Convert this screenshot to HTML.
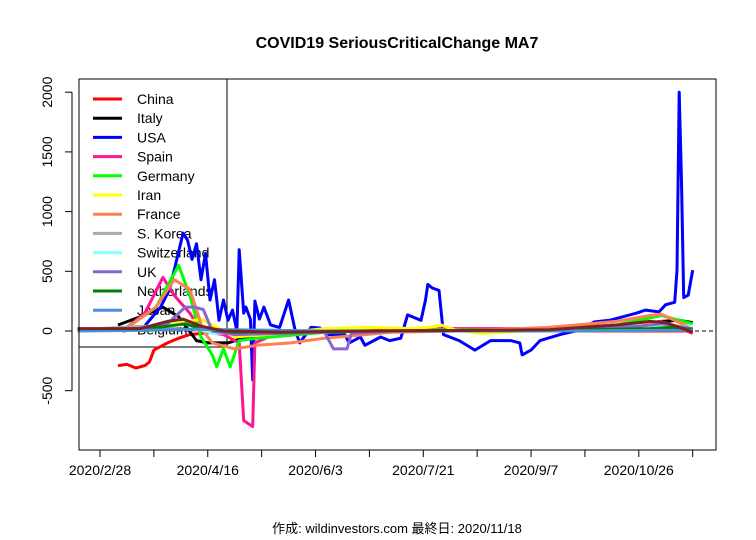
<!DOCTYPE html>
<html><head><meta charset="utf-8">
<style>
body{margin:0;background:#fff;}
svg{display:block;font-family:"Liberation Sans","Noto Sans CJK JP",sans-serif;}
</style></head>
<body>
<svg id="chart" width="756" height="540" viewBox="0 0 756 540" xmlns="http://www.w3.org/2000/svg">
<rect width="756" height="540" fill="#fff"/>
<text x="397" y="48" text-anchor="middle" font-size="16" font-weight="bold">COVID19 SeriousCriticalChange MA7</text>
<text x="397" y="533" text-anchor="middle" font-size="13">作成: wildinvestors.com 最終日: 2020/11/18</text>
<g id="axes"></g>
<g id="legend"></g>
<g id="series"></g>
<rect x="79" y="79" width="637" height="371" fill="none" stroke="#000" stroke-width="1"/>
</svg>
<script>
const xTickLabels=["2020/2/28","2020/4/16","2020/6/3","2020/7/21","2020/9/7","2020/10/26"];
const xTickDays=[0,48,96,144,192,240];
const xMinorDays=[24,72,120,168,216,264];
const yTicks=[-500,0,500,1000,1500,2000];
const seriesNames=["China","Italy","USA","Spain","Germany","Iran","France","S. Korea","Switzerland","UK","Netherlands","Japan","Belgium"];
const seriesColors=["#ff0000","#000000","#0000ff","#ff1493","#00ff00","#ffff00","#ff7f50","#a9a9a9","#87ffff","#8a64d2","#008000","#4a90d9","#7b2222"];

const chinaDays=[8,12,16,20,22,24,30,35,40,50,70,100,150,200,250,264];
const chinaVals=[-290,-280,-310,-290,-260,-160,-100,-60,-30,-10,-5,0,0,0,0,0];
const italyDays=[8,18,28,35,43,48,57,65,75,100,150,200,230,250,258,264];
const italyVals=[50,120,200,120,-80,-100,-100,-50,-10,0,0,5,20,80,90,70];
const usaDays=[18,27,31,37,39,41,43,45,47,49,51,53,55,57,59,61,62,64,65,67,68,69,71,73,76,80,84,87,89,94,98,102,109,111,116,118,125,129,134,137,143,145,146,148,151,153,160,167,174,183,187,188,192,196,205,214,220,227,239,243,249,252,256,257,258,259,260,262,264];
const usaVals=[0,200,350,820,760,600,730,430,650,260,430,90,260,90,175,0,680,150,200,100,-410,250,100,200,50,30,260,0,-100,30,25,-30,-30,-100,-50,-120,-50,-80,-60,135,90,260,390,360,340,-30,-80,-160,-80,-80,-100,-200,-160,-80,-30,10,75,90,150,175,160,220,240,510,2000,1250,280,300,510];
const spainDays=[10,20,28,33,40,45,55,62,64,68,69,75,100,150,200,240,250,264];
const spainVals=[0,150,450,300,150,0,-30,-100,-750,-800,-100,-50,-10,20,20,60,80,-20];
const germanyDays=[10,25,35,40,45,50,52,55,58,62,70,100,150,200,230,250,264];
const germanyVals=[0,200,550,300,-50,-200,-300,-150,-300,-80,-60,-10,10,10,50,130,60];
const iranDays=[10,30,45,60,80,100,120,140,150,152,158,170,200,230,250,264];
const iranVals=[0,50,100,-50,-20,20,30,20,40,50,10,-20,10,30,60,30];
const franceDays=[10,25,33,40,46,50,60,70,85,100,130,160,200,230,245,250,264];
const franceVals=[0,200,430,350,0,-100,-150,-120,-100,-60,-10,0,30,80,130,140,20];
const skoreaDays=[0,20,40,80,150,220,264];
const skoreaVals=[20,40,10,0,0,5,10];
const switzDays=[10,28,38,50,100,200,250,264];
const switzVals=[0,40,60,-20,0,5,50,30];
const ukDays=[10,30,38,42,46,50,60,80,100,104,110,112,130,200,240,250,264];
const ukVals=[0,60,200,200,180,0,-30,-20,-10,-150,-150,-20,0,5,40,60,20];
const nethDays=[10,30,38,45,60,100,200,245,255,264];
const nethVals=[0,40,60,20,-10,0,5,20,30,10];
const japanDays=[-10,20,40,60,100,150,200,250,264];
const japanVals=[0,5,15,10,0,0,0,5,5];
const belgiumDays=[-10,18,30,37,45,55,80,120,200,230,245,252,264];
const belgiumVals=[20,20,80,100,40,0,-10,0,10,50,80,70,-10];

const allDays=[chinaDays,italyDays,usaDays,spainDays,germanyDays,iranDays,franceDays,skoreaDays,switzDays,ukDays,nethDays,japanDays,belgiumDays];
const allVals=[chinaVals,italyVals,usaVals,spainVals,germanyVals,iranVals,franceVals,skoreaVals,switzVals,ukVals,nethVals,japanVals,belgiumVals];

const NS="http://www.w3.org/2000/svg";
function xScale(d){return 100+d*2.245;}
function yScale(v){return 331-v*0.1194;}
function mk(tag,attrs,parent){const e=document.createElementNS(NS,tag);for(const k in attrs)e.setAttribute(k,attrs[k]);parent.appendChild(e);return e;}

const axes=document.getElementById('axes');
// y axis
mk('line',{x1:72,x2:72,y1:yScale(-500),y2:yScale(2000),stroke:'#000'},axes);
yTicks.forEach(v=>{
  const y=yScale(v);
  const t=mk('line',{x1:65,x2:72,y1:y,y2:y,stroke:'#000'},axes);
  
  
  const l=mk('text',{x:52,y:y,'text-anchor':'middle','font-size':'14',transform:`rotate(-90 52 ${y})`},axes);
  l.textContent=String(v);
  
  
});
// x axis
mk('line',{x1:xScale(0),x2:xScale(264),y1:450,y2:450,stroke:'#000'},axes);
xTickDays.concat(xMinorDays).forEach(d=>{
  const t=mk('line',{x1:xScale(d),x2:xScale(d),y1:450,y2:457,stroke:'#000'},axes);
  
  
});
xTickLabels.forEach((s,i)=>{
  const l=mk('text',{x:xScale(xTickDays[i]),y:475,'text-anchor':'middle','font-size':'14'},axes);
  l.textContent=s;
  
  
});
// zero dashed line
const zl=mk('line',{x1:79,x2:716,y1:yScale(0),y2:yScale(0),stroke:'#000','stroke-dasharray':'4,3'},axes);



// legend
const lg=document.getElementById('legend');
const lbox=mk('rect',{x:79,y:79,width:148,height:268,fill:'none',stroke:'#000'},lg);


seriesNames.forEach((n,i)=>{
  const y=99+i*19.2;
  const g=mk('g',{},lg);
  
  
  mk('line',{x1:93,x2:122,y1:y,y2:y,stroke:seriesColors[i],'stroke-width':3},g);
  const t=mk('text',{x:137,y:y+5,'font-size':'14'},g);
  t.textContent=n;
});

// series
const sg=document.getElementById('series');
allDays.forEach((days,i)=>{
  const vals=allVals[i];
  const pts=days.map((d,j)=>xScale(d).toFixed(1)+','+yScale(vals[j]).toFixed(1)).join(' ');
  const p=mk('polyline',{points:pts,fill:'none',stroke:seriesColors[i],'stroke-width':3,'stroke-linejoin':'round'},sg);
  
  
});
</script>
</body></html>
